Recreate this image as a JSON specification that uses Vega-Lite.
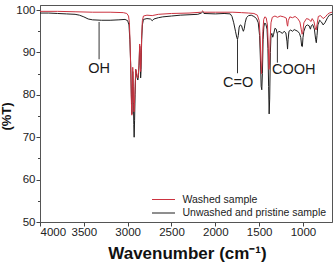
{
  "$schema": "https://vega.github.io/schema/vega-lite/v6.json",
  "width": 292,
  "height": 217,
  "autosize": {"type": "none"},
  "padding": {"left": 40, "top": 5, "right": 2, "bottom": 41},
  "background": "white",
  "config": {
    "view": {"stroke": "#555555", "strokeWidth": 1},
    "font": "Liberation Sans",
    "axis": {
      "grid": false,
      "domainColor": "#555555",
      "tickColor": "#444444",
      "labelFont": "Liberation Sans",
      "labelFontSize": 11.5,
      "labelColor": "#222222",
      "titleFont": "Liberation Sans",
      "titleFontWeight": "bold",
      "titleColor": "#111111"
    }
  },
  "datasets": {
    "spectra": [
      {"wn": 4000, "t": 99.3, "sample": "Unwashed and pristine sample"},
      {"wn": 3900, "t": 99.3, "sample": "Unwashed and pristine sample"},
      {"wn": 3800, "t": 99.2, "sample": "Unwashed and pristine sample"},
      {"wn": 3700, "t": 99.1, "sample": "Unwashed and pristine sample"},
      {"wn": 3600, "t": 99.0, "sample": "Unwashed and pristine sample"},
      {"wn": 3550, "t": 98.8, "sample": "Unwashed and pristine sample"},
      {"wn": 3500, "t": 98.4, "sample": "Unwashed and pristine sample"},
      {"wn": 3450, "t": 97.9, "sample": "Unwashed and pristine sample"},
      {"wn": 3400, "t": 97.7, "sample": "Unwashed and pristine sample"},
      {"wn": 3300, "t": 97.6, "sample": "Unwashed and pristine sample"},
      {"wn": 3200, "t": 97.6, "sample": "Unwashed and pristine sample"},
      {"wn": 3100, "t": 97.7, "sample": "Unwashed and pristine sample"},
      {"wn": 3030, "t": 97.8, "sample": "Unwashed and pristine sample"},
      {"wn": 3000, "t": 97.5, "sample": "Unwashed and pristine sample"},
      {"wn": 2985, "t": 96.5, "sample": "Unwashed and pristine sample"},
      {"wn": 2975, "t": 93, "sample": "Unwashed and pristine sample"},
      {"wn": 2965, "t": 87, "sample": "Unwashed and pristine sample"},
      {"wn": 2958, "t": 80, "sample": "Unwashed and pristine sample"},
      {"wn": 2952, "t": 75.5, "sample": "Unwashed and pristine sample"},
      {"wn": 2947, "t": 80, "sample": "Unwashed and pristine sample"},
      {"wn": 2942, "t": 85.5, "sample": "Unwashed and pristine sample"},
      {"wn": 2937, "t": 82, "sample": "Unwashed and pristine sample"},
      {"wn": 2930, "t": 73, "sample": "Unwashed and pristine sample"},
      {"wn": 2926, "t": 70, "sample": "Unwashed and pristine sample"},
      {"wn": 2921, "t": 74, "sample": "Unwashed and pristine sample"},
      {"wn": 2915, "t": 80, "sample": "Unwashed and pristine sample"},
      {"wn": 2908, "t": 86, "sample": "Unwashed and pristine sample"},
      {"wn": 2900, "t": 85, "sample": "Unwashed and pristine sample"},
      {"wn": 2892, "t": 84, "sample": "Unwashed and pristine sample"},
      {"wn": 2884, "t": 83.5, "sample": "Unwashed and pristine sample"},
      {"wn": 2877, "t": 84.5, "sample": "Unwashed and pristine sample"},
      {"wn": 2870, "t": 87, "sample": "Unwashed and pristine sample"},
      {"wn": 2863, "t": 91.5, "sample": "Unwashed and pristine sample"},
      {"wn": 2857, "t": 90, "sample": "Unwashed and pristine sample"},
      {"wn": 2852, "t": 84, "sample": "Unwashed and pristine sample"},
      {"wn": 2847, "t": 86, "sample": "Unwashed and pristine sample"},
      {"wn": 2840, "t": 93, "sample": "Unwashed and pristine sample"},
      {"wn": 2832, "t": 96.5, "sample": "Unwashed and pristine sample"},
      {"wn": 2820, "t": 97.8, "sample": "Unwashed and pristine sample"},
      {"wn": 2780, "t": 98.0, "sample": "Unwashed and pristine sample"},
      {"wn": 2740, "t": 97.9, "sample": "Unwashed and pristine sample"},
      {"wn": 2720, "t": 97.5, "sample": "Unwashed and pristine sample"},
      {"wn": 2700, "t": 97.9, "sample": "Unwashed and pristine sample"},
      {"wn": 2650, "t": 98.2, "sample": "Unwashed and pristine sample"},
      {"wn": 2600, "t": 98.4, "sample": "Unwashed and pristine sample"},
      {"wn": 2500, "t": 98.6, "sample": "Unwashed and pristine sample"},
      {"wn": 2400, "t": 98.8, "sample": "Unwashed and pristine sample"},
      {"wn": 2300, "t": 98.9, "sample": "Unwashed and pristine sample"},
      {"wn": 2200, "t": 99.0, "sample": "Unwashed and pristine sample"},
      {"wn": 2160, "t": 99.3, "sample": "Unwashed and pristine sample"},
      {"wn": 2145, "t": 99.6, "sample": "Unwashed and pristine sample"},
      {"wn": 2130, "t": 99.2, "sample": "Unwashed and pristine sample"},
      {"wn": 2000, "t": 99.1, "sample": "Unwashed and pristine sample"},
      {"wn": 1900, "t": 99.2, "sample": "Unwashed and pristine sample"},
      {"wn": 1830, "t": 99.1, "sample": "Unwashed and pristine sample"},
      {"wn": 1810, "t": 98.5, "sample": "Unwashed and pristine sample"},
      {"wn": 1790, "t": 97, "sample": "Unwashed and pristine sample"},
      {"wn": 1770, "t": 95, "sample": "Unwashed and pristine sample"},
      {"wn": 1755, "t": 93.5, "sample": "Unwashed and pristine sample"},
      {"wn": 1747, "t": 93.1, "sample": "Unwashed and pristine sample"},
      {"wn": 1738, "t": 94, "sample": "Unwashed and pristine sample"},
      {"wn": 1728, "t": 96, "sample": "Unwashed and pristine sample"},
      {"wn": 1715, "t": 96.5, "sample": "Unwashed and pristine sample"},
      {"wn": 1700, "t": 96.3, "sample": "Unwashed and pristine sample"},
      {"wn": 1690, "t": 95.5, "sample": "Unwashed and pristine sample"},
      {"wn": 1680, "t": 95, "sample": "Unwashed and pristine sample"},
      {"wn": 1670, "t": 95.6, "sample": "Unwashed and pristine sample"},
      {"wn": 1660, "t": 97, "sample": "Unwashed and pristine sample"},
      {"wn": 1645, "t": 98.2, "sample": "Unwashed and pristine sample"},
      {"wn": 1620, "t": 98.7, "sample": "Unwashed and pristine sample"},
      {"wn": 1590, "t": 98.8, "sample": "Unwashed and pristine sample"},
      {"wn": 1560, "t": 98.5, "sample": "Unwashed and pristine sample"},
      {"wn": 1530, "t": 98, "sample": "Unwashed and pristine sample"},
      {"wn": 1510, "t": 97, "sample": "Unwashed and pristine sample"},
      {"wn": 1495, "t": 94, "sample": "Unwashed and pristine sample"},
      {"wn": 1485, "t": 88, "sample": "Unwashed and pristine sample"},
      {"wn": 1477, "t": 82, "sample": "Unwashed and pristine sample"},
      {"wn": 1470, "t": 81.2, "sample": "Unwashed and pristine sample"},
      {"wn": 1463, "t": 85, "sample": "Unwashed and pristine sample"},
      {"wn": 1455, "t": 93, "sample": "Unwashed and pristine sample"},
      {"wn": 1447, "t": 96, "sample": "Unwashed and pristine sample"},
      {"wn": 1438, "t": 96.9, "sample": "Unwashed and pristine sample"},
      {"wn": 1425, "t": 96.8, "sample": "Unwashed and pristine sample"},
      {"wn": 1410, "t": 95.5, "sample": "Unwashed and pristine sample"},
      {"wn": 1400, "t": 91, "sample": "Unwashed and pristine sample"},
      {"wn": 1392, "t": 82, "sample": "Unwashed and pristine sample"},
      {"wn": 1386, "t": 75.5, "sample": "Unwashed and pristine sample"},
      {"wn": 1380, "t": 79, "sample": "Unwashed and pristine sample"},
      {"wn": 1372, "t": 90, "sample": "Unwashed and pristine sample"},
      {"wn": 1365, "t": 94, "sample": "Unwashed and pristine sample"},
      {"wn": 1355, "t": 94.5, "sample": "Unwashed and pristine sample"},
      {"wn": 1345, "t": 93.6, "sample": "Unwashed and pristine sample"},
      {"wn": 1335, "t": 94.3, "sample": "Unwashed and pristine sample"},
      {"wn": 1320, "t": 95.7, "sample": "Unwashed and pristine sample"},
      {"wn": 1305, "t": 95.5, "sample": "Unwashed and pristine sample"},
      {"wn": 1295, "t": 94.5, "sample": "Unwashed and pristine sample"},
      {"wn": 1285, "t": 94.7, "sample": "Unwashed and pristine sample"},
      {"wn": 1275, "t": 95.0, "sample": "Unwashed and pristine sample"},
      {"wn": 1255, "t": 94.8, "sample": "Unwashed and pristine sample"},
      {"wn": 1235, "t": 94.5, "sample": "Unwashed and pristine sample"},
      {"wn": 1215, "t": 95, "sample": "Unwashed and pristine sample"},
      {"wn": 1195, "t": 94.6, "sample": "Unwashed and pristine sample"},
      {"wn": 1182, "t": 92.5, "sample": "Unwashed and pristine sample"},
      {"wn": 1176, "t": 90.8, "sample": "Unwashed and pristine sample"},
      {"wn": 1170, "t": 93, "sample": "Unwashed and pristine sample"},
      {"wn": 1160, "t": 95, "sample": "Unwashed and pristine sample"},
      {"wn": 1140, "t": 95.3, "sample": "Unwashed and pristine sample"},
      {"wn": 1120, "t": 95, "sample": "Unwashed and pristine sample"},
      {"wn": 1100, "t": 95.4, "sample": "Unwashed and pristine sample"},
      {"wn": 1080, "t": 95.2, "sample": "Unwashed and pristine sample"},
      {"wn": 1060, "t": 95.0, "sample": "Unwashed and pristine sample"},
      {"wn": 1040, "t": 94.5, "sample": "Unwashed and pristine sample"},
      {"wn": 1025, "t": 93.5, "sample": "Unwashed and pristine sample"},
      {"wn": 1015, "t": 91.5, "sample": "Unwashed and pristine sample"},
      {"wn": 1007, "t": 91.4, "sample": "Unwashed and pristine sample"},
      {"wn": 1000, "t": 93.5, "sample": "Unwashed and pristine sample"},
      {"wn": 990, "t": 95, "sample": "Unwashed and pristine sample"},
      {"wn": 970, "t": 96.2, "sample": "Unwashed and pristine sample"},
      {"wn": 950, "t": 96.5, "sample": "Unwashed and pristine sample"},
      {"wn": 930, "t": 96.3, "sample": "Unwashed and pristine sample"},
      {"wn": 915, "t": 95.5, "sample": "Unwashed and pristine sample"},
      {"wn": 905, "t": 96.3, "sample": "Unwashed and pristine sample"},
      {"wn": 890, "t": 96.6, "sample": "Unwashed and pristine sample"},
      {"wn": 870, "t": 95.5, "sample": "Unwashed and pristine sample"},
      {"wn": 855, "t": 93, "sample": "Unwashed and pristine sample"},
      {"wn": 848, "t": 92.3, "sample": "Unwashed and pristine sample"},
      {"wn": 840, "t": 94, "sample": "Unwashed and pristine sample"},
      {"wn": 830, "t": 96.5, "sample": "Unwashed and pristine sample"},
      {"wn": 810, "t": 97.6, "sample": "Unwashed and pristine sample"},
      {"wn": 790, "t": 97.2, "sample": "Unwashed and pristine sample"},
      {"wn": 770, "t": 96.5, "sample": "Unwashed and pristine sample"},
      {"wn": 750, "t": 97, "sample": "Unwashed and pristine sample"},
      {"wn": 720, "t": 98.2, "sample": "Unwashed and pristine sample"},
      {"wn": 700, "t": 98.8, "sample": "Unwashed and pristine sample"},
      {"wn": 669, "t": 99.0, "sample": "Unwashed and pristine sample"},

      {"wn": 4000, "t": 99.7, "sample": "Washed sample"},
      {"wn": 3800, "t": 99.7, "sample": "Washed sample"},
      {"wn": 3600, "t": 99.6, "sample": "Washed sample"},
      {"wn": 3400, "t": 99.5, "sample": "Washed sample"},
      {"wn": 3200, "t": 99.5, "sample": "Washed sample"},
      {"wn": 3050, "t": 99.4, "sample": "Washed sample"},
      {"wn": 3010, "t": 99.2, "sample": "Washed sample"},
      {"wn": 2990, "t": 98.6, "sample": "Washed sample"},
      {"wn": 2980, "t": 97, "sample": "Washed sample"},
      {"wn": 2972, "t": 92, "sample": "Washed sample"},
      {"wn": 2964, "t": 85, "sample": "Washed sample"},
      {"wn": 2957, "t": 78, "sample": "Washed sample"},
      {"wn": 2952, "t": 75.2, "sample": "Washed sample"},
      {"wn": 2947, "t": 80, "sample": "Washed sample"},
      {"wn": 2942, "t": 86.5, "sample": "Washed sample"},
      {"wn": 2937, "t": 83, "sample": "Washed sample"},
      {"wn": 2932, "t": 78, "sample": "Washed sample"},
      {"wn": 2928, "t": 76, "sample": "Washed sample"},
      {"wn": 2922, "t": 78, "sample": "Washed sample"},
      {"wn": 2915, "t": 82, "sample": "Washed sample"},
      {"wn": 2908, "t": 86, "sample": "Washed sample"},
      {"wn": 2900, "t": 85.5, "sample": "Washed sample"},
      {"wn": 2892, "t": 84.5, "sample": "Washed sample"},
      {"wn": 2884, "t": 84, "sample": "Washed sample"},
      {"wn": 2877, "t": 85, "sample": "Washed sample"},
      {"wn": 2870, "t": 87.5, "sample": "Washed sample"},
      {"wn": 2863, "t": 92, "sample": "Washed sample"},
      {"wn": 2857, "t": 91, "sample": "Washed sample"},
      {"wn": 2852, "t": 85.5, "sample": "Washed sample"},
      {"wn": 2847, "t": 87.5, "sample": "Washed sample"},
      {"wn": 2840, "t": 94, "sample": "Washed sample"},
      {"wn": 2832, "t": 97.5, "sample": "Washed sample"},
      {"wn": 2820, "t": 98.6, "sample": "Washed sample"},
      {"wn": 2780, "t": 98.8, "sample": "Washed sample"},
      {"wn": 2720, "t": 98.7, "sample": "Washed sample"},
      {"wn": 2650, "t": 99.0, "sample": "Washed sample"},
      {"wn": 2500, "t": 99.2, "sample": "Washed sample"},
      {"wn": 2300, "t": 99.3, "sample": "Washed sample"},
      {"wn": 2160, "t": 99.5, "sample": "Washed sample"},
      {"wn": 2145, "t": 99.8, "sample": "Washed sample"},
      {"wn": 2130, "t": 99.5, "sample": "Washed sample"},
      {"wn": 2000, "t": 99.5, "sample": "Washed sample"},
      {"wn": 1800, "t": 99.5, "sample": "Washed sample"},
      {"wn": 1700, "t": 99.4, "sample": "Washed sample"},
      {"wn": 1620, "t": 99.3, "sample": "Washed sample"},
      {"wn": 1560, "t": 99.2, "sample": "Washed sample"},
      {"wn": 1520, "t": 98.8, "sample": "Washed sample"},
      {"wn": 1500, "t": 97.5, "sample": "Washed sample"},
      {"wn": 1490, "t": 94, "sample": "Washed sample"},
      {"wn": 1480, "t": 88, "sample": "Washed sample"},
      {"wn": 1473, "t": 85, "sample": "Washed sample"},
      {"wn": 1467, "t": 88, "sample": "Washed sample"},
      {"wn": 1458, "t": 95, "sample": "Washed sample"},
      {"wn": 1448, "t": 97.8, "sample": "Washed sample"},
      {"wn": 1435, "t": 98.4, "sample": "Washed sample"},
      {"wn": 1420, "t": 98.2, "sample": "Washed sample"},
      {"wn": 1405, "t": 96.5, "sample": "Washed sample"},
      {"wn": 1395, "t": 91, "sample": "Washed sample"},
      {"wn": 1388, "t": 86, "sample": "Washed sample"},
      {"wn": 1382, "t": 87, "sample": "Washed sample"},
      {"wn": 1375, "t": 93, "sample": "Washed sample"},
      {"wn": 1365, "t": 97, "sample": "Washed sample"},
      {"wn": 1350, "t": 98.3, "sample": "Washed sample"},
      {"wn": 1320, "t": 98.6, "sample": "Washed sample"},
      {"wn": 1290, "t": 98.3, "sample": "Washed sample"},
      {"wn": 1260, "t": 98.6, "sample": "Washed sample"},
      {"wn": 1220, "t": 98.4, "sample": "Washed sample"},
      {"wn": 1190, "t": 98.1, "sample": "Washed sample"},
      {"wn": 1180, "t": 96.5, "sample": "Washed sample"},
      {"wn": 1175, "t": 96.2, "sample": "Washed sample"},
      {"wn": 1168, "t": 97.5, "sample": "Washed sample"},
      {"wn": 1150, "t": 98.4, "sample": "Washed sample"},
      {"wn": 1120, "t": 98.2, "sample": "Washed sample"},
      {"wn": 1090, "t": 98.5, "sample": "Washed sample"},
      {"wn": 1060, "t": 98.0, "sample": "Washed sample"},
      {"wn": 1035, "t": 97.2, "sample": "Washed sample"},
      {"wn": 1020, "t": 95.5, "sample": "Washed sample"},
      {"wn": 1010, "t": 94.3, "sample": "Washed sample"},
      {"wn": 1002, "t": 94.8, "sample": "Washed sample"},
      {"wn": 990, "t": 97, "sample": "Washed sample"},
      {"wn": 960, "t": 98.0, "sample": "Washed sample"},
      {"wn": 930, "t": 97.8, "sample": "Washed sample"},
      {"wn": 910, "t": 97.3, "sample": "Washed sample"},
      {"wn": 895, "t": 98, "sample": "Washed sample"},
      {"wn": 875, "t": 97.3, "sample": "Washed sample"},
      {"wn": 860, "t": 95.8, "sample": "Washed sample"},
      {"wn": 850, "t": 95.3, "sample": "Washed sample"},
      {"wn": 840, "t": 96.5, "sample": "Washed sample"},
      {"wn": 825, "t": 98.5, "sample": "Washed sample"},
      {"wn": 800, "t": 98.7, "sample": "Washed sample"},
      {"wn": 770, "t": 98.0, "sample": "Washed sample"},
      {"wn": 745, "t": 98.4, "sample": "Washed sample"},
      {"wn": 720, "t": 99, "sample": "Washed sample"},
      {"wn": 700, "t": 99.3, "sample": "Washed sample"},
      {"wn": 669, "t": 99.5, "sample": "Washed sample"}
    ],
    "leaders": [
      {"wn": 3326, "t": 97.2, "t2": 88.4},
      {"wn": 1747, "t": 93.1, "t2": 85.1},
      {"wn": 1292, "t": 94.5, "t2": 87.6}
    ],
    "notes": [
      {"wn": 3326, "t": 86.1, "label": "OH"},
      {"wn": 1740, "t": 82.9, "label": "C=O"},
      {"wn": 1105, "t": 85.9, "label": "COOH"}
    ]
  },
  "encoding": {
    "x": {
      "field": "wn",
      "type": "quantitative",
      "scale": {"domain": [669, 4000], "reverse": true, "nice": false, "zero": false},
      "axis": {
        "title": "Wavenumber (cm⁻¹)",
        "titleFontSize": 17,
        "titleX": 147,
        "titleY": 31,
        "titleBaseline": "middle",
        "values": [4000, 3500, 3000, 2500, 2000, 1500, 1000],
        "format": "d",
        "tickSize": 4,
        "labelPadding": 0
      }
    },
    "y": {
      "field": "t",
      "type": "quantitative",
      "scale": {"domain": [50, 101.2], "nice": false, "zero": false},
      "axis": {
        "title": "(%T)",
        "titleFontSize": 13,
        "titleX": -34,
        "titleY": 111,
        "titleAngle": 270,
        "titleAlign": "center",
        "titleBaseline": "middle",
        "values": [50, 55, 60, 65, 70, 75, 80, 85, 90, 95, 100],
        "labelExpr": "datum.value % 10 === 0 ? datum.label : ''",
        "labelOverlap": false,
        "tickSize": {"condition": {"test": "datum.value % 10 === 0", "value": 4}, "value": 2.5},
        "labelPadding": 1
      }
    }
  },
  "layer": [
    {
      "data": {"name": "spectra"},
      "mark": {"type": "line", "strokeWidth": 1, "interpolate": "linear", "clip": true},
      "encoding": {
        "color": {
          "field": "sample",
          "type": "nominal",
          "scale": {
            "domain": ["Washed sample", "Unwashed and pristine sample"],
            "range": ["#cc3340", "#1e1e1e"]
          },
          "legend": {
            "title": null,
            "orient": "none",
            "legendX": 117,
            "legendY": 188,
            "padding": 0,
            "symbolType": "M-2,0H2",
            "symbolSize": 132,
            "symbolStrokeWidth": 1,
            "labelOffset": 12.5,
            "labelFont": "Liberation Sans",
            "labelFontSize": 10.5,
            "labelColor": "#222222",
            "rowPadding": 1.5
          }
        }
      }
    },
    {
      "data": {"name": "leaders"},
      "mark": {"type": "rule", "color": "#333333", "strokeWidth": 1},
      "encoding": {
        "y2": {"field": "t2"}
      }
    },
    {
      "data": {"name": "notes"},
      "mark": {"type": "text", "font": "Liberation Sans", "fontSize": 14.5, "color": "#1a1a1a", "align": "center", "baseline": "middle"},
      "encoding": {
        "text": {"field": "label"}
      }
    }
  ]
}
